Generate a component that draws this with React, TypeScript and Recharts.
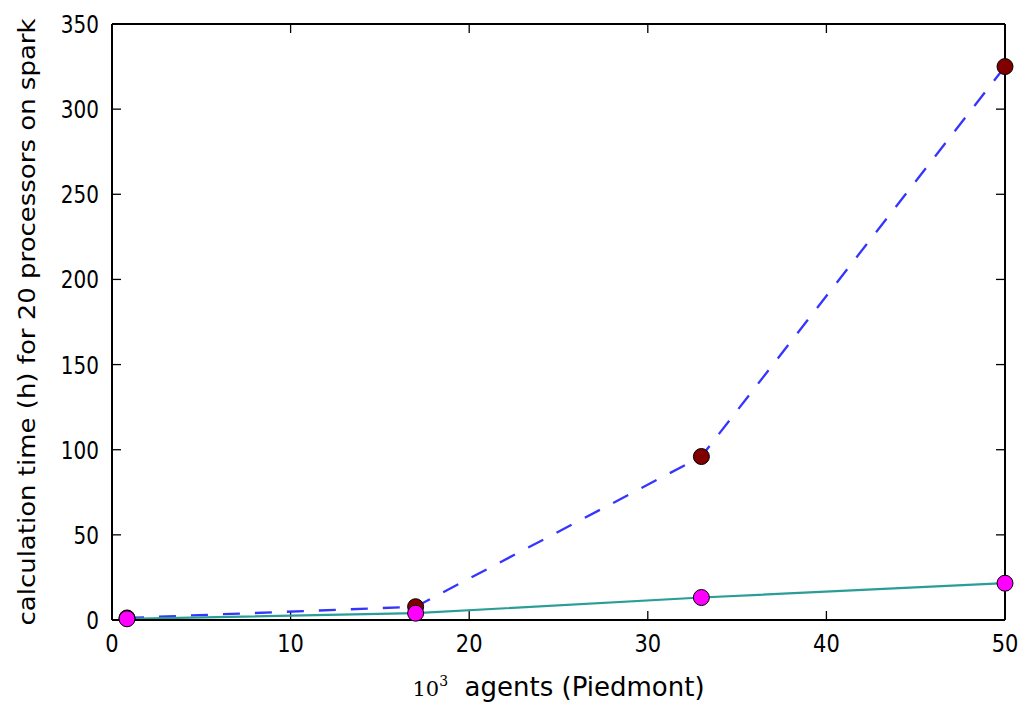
import React from 'react';
import { LineChart, Line, XAxis, YAxis, Label, ReferenceLine } from 'recharts';

const agents = [0.84, 17, 33, 50];
const sparkHours = [1.2, 7.8, 96, 325];
const otherHours = [0.7, 4, 13.2, 21.6];
const xTicks = [0, 10, 20, 30, 40, 50];
const yTicks = [0, 50, 100, 150, 200, 250, 300, 350];

const data = agents.map((a, i) => ({ agents: a, spark: sparkHours[i], other: otherHours[i] }));

const FONT = 'DejaVu Sans, sans-serif';
const TL = 9;
const TS = 1.3;
const AW = 2;

const BottomTick = (p: any) => (
  <text
    transform={`translate(${p.x},${p.y + 32}) scale(1,1.2)`}
    textAnchor="middle"
    fontSize={21}
    fontFamily={FONT}
    fill="#000"
  >
    {p.payload.value}
  </text>
);
const LeftTick = (p: any) => (
  <text
    transform={`translate(${p.x - 13},${p.y + 9}) scale(1,1.2)`}
    textAnchor="end"
    fontSize={20}
    fontFamily={FONT}
    fill="#000"
  >
    {p.payload.value}
  </text>
);

// vertical reference line -> short tick marks at bottom and top
const VTickShape = (p: any) => {
  const x = p.x1;
  const yTop = Math.min(p.y1, p.y2);
  const yBot = Math.max(p.y1, p.y2);
  return (
    <g>
      <line x1={x} x2={x} y1={yBot} y2={yBot - TL} stroke="#000" strokeWidth={TS} />
      <line x1={x} x2={x} y1={yTop} y2={yTop + TL} stroke="#000" strokeWidth={TS} />
    </g>
  );
};
const HTickShape = (p: any) => {
  const y = p.y1;
  const xL = Math.min(p.x1, p.x2);
  const xR = Math.max(p.x1, p.x2);
  return (
    <g>
      <line x1={xL} x2={xL + TL} y1={y} y2={y} stroke="#000" strokeWidth={TS} />
      <line x1={xR} x2={xR - TL} y1={y} y2={y} stroke="#000" strokeWidth={TS} />
    </g>
  );
};

export default function App() {
  return (
    <div style={{ position: 'absolute', left: 0, top: 0, background: '#fff' }}>
      <LineChart width={1021} height={702} data={data} margin={{ top: 24, right: 16, bottom: 32, left: 0 }}>
        <XAxis
          dataKey="agents"
          type="number"
          domain={[0, 50]}
          ticks={xTicks}
          height={50}
          tickSize={0}
          tickMargin={0}
          tickLine={false}
          axisLine={{ stroke: '#000', strokeWidth: AW }}
          tick={<BottomTick />}
          interval={0}
        >
          <Label
            content={(props: any) => {
              const vb = props.viewBox;
              const cx = vb.x + vb.width / 2;
              return (
                <text x={cx} y={696} textAnchor="middle" fontSize={26} fontFamily={FONT} fill="#000">
                  <tspan fontFamily="DejaVu Serif, serif" fontSize={21}>10</tspan>
                  <tspan fontFamily="DejaVu Serif, serif" fontSize={14} dy={-10}>3</tspan>
                  <tspan dy={10}>{'\u00a0\u00a0agents (Piedmont)'}</tspan>
                </text>
              );
            }}
          />
        </XAxis>
        <YAxis
          type="number"
          domain={[0, 350]}
          ticks={yTicks}
          width={112}
          tickSize={0}
          tickMargin={0}
          tickLine={false}
          axisLine={{ stroke: '#000', strokeWidth: AW }}
          tick={<LeftTick />}
          interval={0}
        >
          <Label
            content={(props: any) => {
              const vb = props.viewBox;
              const cy = vb.y + vb.height / 2;
              return (
                <text
                  transform={`translate(35,${cy}) rotate(-90) scale(1,0.85)`}
                  textAnchor="middle"
                  fontSize={26}
                  fontFamily={FONT}
                  fill="#000"
                >
                  calculation time (h) for 20 processors on spark
                </text>
              );
            }}
          />
        </YAxis>
        {xTicks.slice(1, -1).map((v) => (
          <ReferenceLine key={'vx' + v} x={v} shape={<VTickShape />} />
        ))}
        {yTicks.slice(1, -1).map((v) => (
          <ReferenceLine key={'hy' + v} y={v} shape={<HTickShape />} />
        ))}
        <ReferenceLine x={50} stroke="#000" strokeWidth={AW} />
        <ReferenceLine y={350} stroke="#000" strokeWidth={AW} />
        <Line
          dataKey="spark"
          stroke="#3535ff"
          strokeWidth={2.3}
          strokeDasharray="17 15"
          dot={{ r: 8, fill: '#800000', stroke: '#000', strokeWidth: 1, strokeDasharray: '0' }}
          isAnimationActive={false}
        />
        <Line
          dataKey="other"
          stroke="#2a9d96"
          strokeWidth={2.2}
          dot={{ r: 8, fill: '#ff00ff', stroke: '#000', strokeWidth: 1 }}
          isAnimationActive={false}
        />
      </LineChart>
    </div>
  );
}
